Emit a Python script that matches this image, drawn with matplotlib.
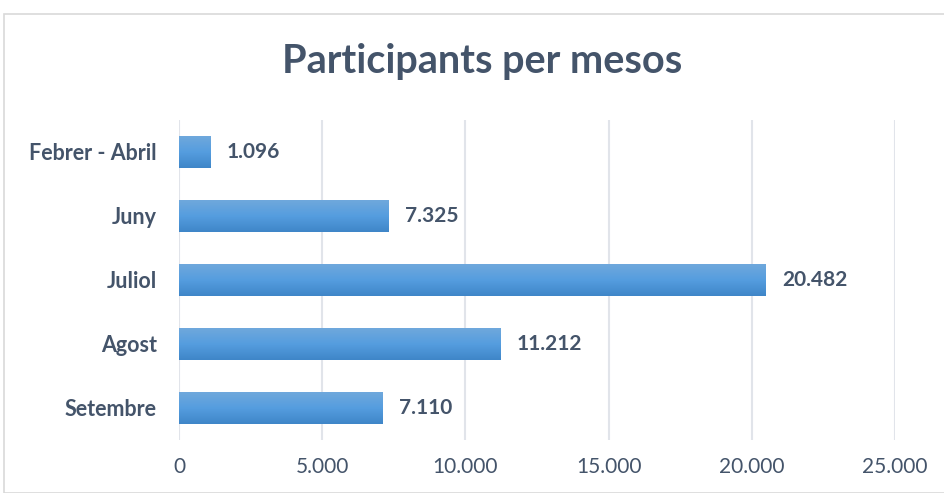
import numpy as np
import matplotlib
matplotlib.use("Agg")
import matplotlib.pyplot as plt
from matplotlib.patches import Rectangle
from matplotlib.colors import LinearSegmentedColormap

categories = ["Febrer - Abril", "Juny", "Juliol", "Agost", "Setembre"]
values = [1096, 7325, 20482, 11212, 7110]
value_labels = ["1.096", "7.325", "20.482", "11.212", "7.110"]
xticks = [0, 5000, 10000, 15000, 20000, 25000]
xtick_labels = ["0", "5.000", "10.000", "15.000", "20.000", "25.000"]

plt.rcParams['font.family'] = ['Lato', 'DejaVu Sans']
txt = "#44546A"

fig = plt.figure(figsize=(9.44, 4.93), dpi=100)
fig.patches.append(Rectangle((4/944, 0), 1.0, 1 - 14/493, transform=fig.transFigure,
                             fill=False, edgecolor="#D9D9D9", linewidth=1.2))
ax = fig.add_axes([179/944, 1 - 440/493, 716/944, 320/493])

ypos = np.arange(len(categories))
cmap = LinearSegmentedColormap.from_list("g", ["#6FA8DC", "#559DDF", "#3F86C8"])
grad = np.linspace(0, 1, 64).reshape(-1, 1)
h = 0.5
bars = ax.barh(ypos, values, height=h, color="none")
for b in bars:
    x0, y0 = b.get_x(), b.get_y()
    ax.imshow(grad, cmap=cmap, aspect="auto", origin="upper",
              extent=[x0, x0 + b.get_width(), y0 + h, y0], zorder=2)
for y, v, lab in zip(ypos, values, value_labels):
    ax.text(v + 580, y, lab, va="center", ha="left", fontsize=15, fontweight="bold", color=txt)

ax.set_xlim(0, 25000)
ax.set_ylim(len(categories) - 0.5, -0.5)
ax.set_xticks(xticks)
ax.set_xticklabels(xtick_labels, fontsize=15, color=txt)
ax.set_yticks(ypos)
ax.set_yticklabels(categories, fontsize=15.5, fontweight="bold", color=txt)
ax.tick_params(axis="both", length=0)
ax.tick_params(axis="x", pad=12)
ax.tick_params(axis="y", pad=16)
ax.grid(axis="x", color="#E1E4EA", linewidth=1.5, zorder=0)
ax.set_axisbelow(True)
for s in ax.spines.values():
    s.set_visible(False)

fig.text(482/944, 1 - 62/493, "Participants per mesos", ha="center", va="center",
         fontsize=28.5, fontweight="bold", color=txt)

fig.savefig("out.png", dpi=100)
